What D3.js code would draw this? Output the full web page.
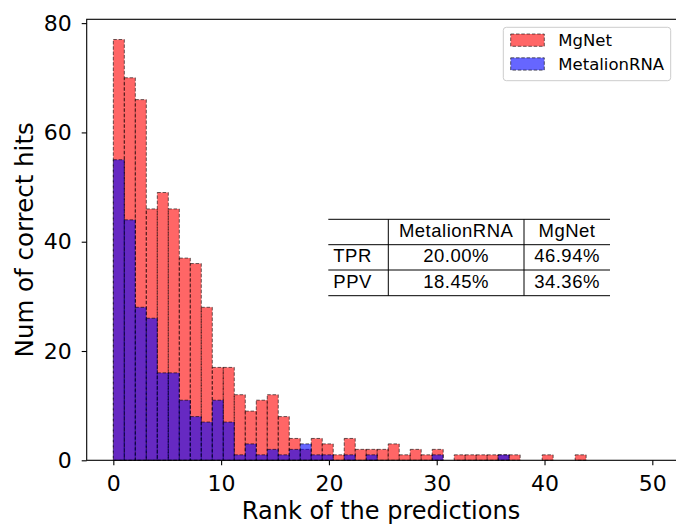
<!DOCTYPE html>
<html><head><meta charset="utf-8">
<script src="https://cdn.jsdelivr.net/npm/d3@7/dist/d3.min.js"></script>
<style>body{margin:0;background:#fff} svg{display:block}</style>
</head><body>
<svg id="chart" width="676" height="525"></svg>
<script>
// ---- data ----
const mgnetCounts = [77,70,66,46,49,46,37,36,28,17, 17,12,9,11,12,8,4,2,4,3, 1,4,2,2,2,3,1,2,1,2, 0,1,1,1,1,1,1,0,0,1, 0,0,1];
const metalionCounts = [55,44,28,26,16,16,11,8,7,11, 7,1,3,1,2,1,2,3,1,1, 0,1,0,1,0,0,0,0,0,1, 0,0,0,0,0,1,0,0,0,0, 0,0,0];
const binWidth = 1.02;
const xTicks = [0,10,20,30,40,50];
const yTicks = [0,20,40,60,80];
const seriesNames = ["MgNet","MetalionRNA"];
const tableHeader = ["", "MetalionRNA", "MgNet"];
const tableRows = [["TPR","20.00%","46.94%"],["PPV","18.45%","34.36%"]];

// ---- layout ----
const L = 86.7, R = 677, T = 19.3, B = 460.3;
const svg = d3.select("#chart");
const x = d3.scaleLinear().domain([-2.47, 52.29]).range([L, R]);
const y = d3.scaleLinear().domain([0, 80.7]).range([B, T]);
const colors = {MgNet: "#ff0000", MetalionRNA: "#0000ff"};
const tickFont = "'DejaVu Sans', sans-serif";

function drawSeries(counts, color) {
  const data = counts.map((v, i) => ({x0: i * binWidth, x1: (i + 1) * binWidth, v}))
    .filter(d => d.v > 0);
  svg.append("g").selectAll("rect").data(data).join("rect")
    .attr("x", d => x(d.x0))
    .attr("width", d => x(d.x1) - x(d.x0))
    .attr("y", d => y(d.v))
    .attr("height", d => y(0) - y(d.v))
    .attr("fill", color).attr("fill-opacity", 0.6)
    .attr("stroke", "#000").attr("stroke-opacity", 0.6)
    .attr("stroke-width", 1).attr("stroke-dasharray", "3.5,1.8");
}
drawSeries(mgnetCounts, colors.MgNet);
drawSeries(metalionCounts, colors.MetalionRNA);

// axes
const xAxis = svg.append("g").attr("transform", `translate(0,${B})`)
  .call(d3.axisBottom(x).tickValues(xTicks).tickSize(5).tickPadding(10).tickFormat(d3.format("d")));
const yAxis = svg.append("g").attr("transform", `translate(${L},0)`)
  .call(d3.axisLeft(y).tickValues(yTicks).tickSize(5).tickPadding(10).tickFormat(d3.format("d")));
[xAxis, yAxis].forEach(a => {
  a.select(".domain").remove();
  a.selectAll(".tick line").attr("stroke", "#000").attr("stroke-width", 1.1);
  a.selectAll(".tick text").attr("font-family", tickFont).attr("font-size", 22).attr("fill", "#000");
});

// spines
svg.append("rect").attr("x", L).attr("y", T).attr("width", R - L).attr("height", B - T)
  .attr("fill", "none").attr("stroke", "#000").attr("stroke-width", 1.1);

// axis labels
svg.append("text").attr("x", 381).attr("y", 518.5).attr("text-anchor", "middle")
  .attr("font-family", tickFont).attr("font-size", 24).text("Rank of the predictions");
svg.append("text").attr("transform", `translate(33,${(T + B) / 2}) rotate(-90)`)
  .attr("text-anchor", "middle").attr("font-family", tickFont).attr("font-size", 24.5)
  .text("Num of correct hits");

// legend
const lg = svg.append("g");
lg.append("rect").attr("x", 503.3).attr("y", 27.3).attr("width", 167.4).attr("height", 53.4)
  .attr("rx", 3).attr("fill", "#fff").attr("fill-opacity", 0.8).attr("stroke", "#cccccc").attr("stroke-width", 1);
seriesNames.forEach((name, i) => {
  const yy = 34 + i * 23.8;
  lg.append("rect").attr("x", 510.7).attr("y", yy).attr("width", 33.6).attr("height", 12.3)
    .attr("fill", colors[name]).attr("fill-opacity", 0.6)
    .attr("stroke", "#000").attr("stroke-opacity", 0.6).attr("stroke-width", 1).attr("stroke-dasharray", "3.5,1.8");
  lg.append("text").attr("x", 558.3).attr("y", yy + 12).attr("font-family", tickFont)
    .attr("font-size", 16.5).attr("fill", "#000").text(name);
});

// table
const colEdges = [328.3, 388.3, 524, 610];
const rowEdges = [219.3, 244.7, 270, 295.7];
const tg = svg.append("g");
rowEdges.forEach(ry => tg.append("line").attr("x1", colEdges[0]).attr("x2", colEdges[3])
  .attr("y1", ry).attr("y2", ry).attr("stroke", "#000").attr("stroke-width", 1));
[colEdges[1], colEdges[2]].forEach(cx => tg.append("line").attr("x1", cx).attr("x2", cx)
  .attr("y1", rowEdges[0]).attr("y2", rowEdges[3]).attr("stroke", "#000").attr("stroke-width", 1));
const allRows = [tableHeader, ...tableRows];
allRows.forEach((row, ri) => {
  const baseline = rowEdges[ri] + 17.6;
  row.forEach((cell, ci) => {
    if (!cell) return;
    const t = tg.append("text").attr("y", baseline).attr("font-family", "'Liberation Sans', Arial, sans-serif")
      .attr("font-size", 18.5).attr("letter-spacing", "0.5px").attr("fill", "#000").text(cell);
    if (ci === 0) t.attr("x", colEdges[0] + 5).attr("text-anchor", "start");
    else t.attr("x", (colEdges[ci] + colEdges[ci + 1]) / 2).attr("text-anchor", "middle");
  });
});
</script>
</body></html>
